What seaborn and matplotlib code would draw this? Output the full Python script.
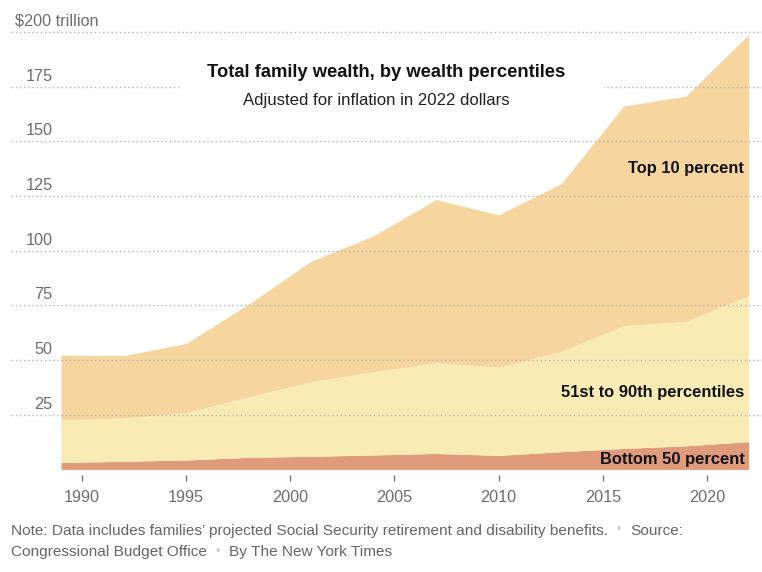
import numpy as np
import pandas as pd
import matplotlib
matplotlib.use("Agg")
import matplotlib.pyplot as plt
import matplotlib.transforms as mtransforms
from matplotlib.patches import Rectangle
import seaborn as sns

# ---- data (trillions of 2022 dollars) ----
years = [1989, 1992, 1995, 1998, 2001, 2004, 2007, 2010, 2013, 2016, 2019, 2022]
bottom_50 = [3.2, 3.7, 4.3, 5.5, 6.0, 6.6, 7.3, 6.4, 8.1, 9.6, 10.8, 12.7]
pct_51_90 = [19.4, 19.8, 21.6, 27.7, 34.1, 38.1, 41.5, 40.3, 45.9, 56.1, 56.9, 66.7]
top_10 = [29.7, 28.5, 31.7, 42.3, 55.1, 62.1, 74.6, 69.7, 76.6, 100.4, 103.0, 119.5]
series_names = ["Bottom 50 percent", "51st to 90th percentiles", "Top 10 percent"]
y_ticks = [25, 50, 75, 100, 125, 150, 175, 200]
y_tick_labels = ["25", "50", "75", "100", "125", "150", "175", "$200 trillion"]
x_ticks = [1990, 1995, 2000, 2005, 2010, 2015, 2020]
title = "Total family wealth, by wealth percentiles"
subtitle = "Adjusted for inflation in 2022 dollars"
note1 = "Note: Data includes families\u2019 projected Social Security retirement and disability benefits."
note_src = "Source:"
note2a = "Congressional Budget Office"
note2b = "By The New York Times"

df = pd.DataFrame({"year": years, series_names[0]: bottom_50,
                   series_names[1]: pct_51_90, series_names[2]: top_10})

sns.set_theme(style="white")
plt.rcParams["font.family"] = ["Liberation Sans", "DejaVu Sans"]

W, H = 762, 572
fig = plt.figure(figsize=(W / 100, H / 100), dpi=100)

def fx(px):
    return px / W

def fy(py):
    return 1 - py / H

# axes: x from px 11 to 762, y from px 469.4 (0) to 28
ax = fig.add_axes([fx(11), fy(469.4), fx(762) - fx(11), fy(28) - fy(469.4)])
px_per_year = 20.84
ax.set_xlim(1989 - 50 / px_per_year, 2022 + 13.4 / px_per_year)
ax.set_ylim(0, 200 + 4 / 2.188)

colors = ["#e09b7b", "#f8ecb4", "#f6d59f"]
base = np.zeros(len(years))
for name, c in zip(series_names, colors):
    vals = df[name].to_numpy()
    ax.fill_between(df["year"], base, base + vals, color=c, linewidth=0, zorder=1)
    base = base + vals

# dotted gridlines above the areas
for v in y_ticks:
    ax.axhline(v, color="#b5b5b5", linewidth=1.0, linestyle=(0, (1, 2)), zorder=2)

sns.despine(ax=ax, left=True, right=True, top=True, bottom=True)
ax.set_yticks([])
ax.set_xticks(x_ticks)
ax.set_xticklabels([str(x) for x in x_ticks])
ax.spines["bottom"].set_position(("outward", 3.7))
ax.tick_params(axis="x", direction="out", length=4.4, width=1, color="#777777",
               pad=6.5, labelsize=11.7, labelcolor="#6e6e6e", bottom=True)
ax.grid(False)

# y labels above gridlines
ylab_tr = mtransforms.offset_copy(
    mtransforms.blended_transform_factory(fig.transFigure, ax.transData),
    fig=fig, x=0, y=6, units="dots")
for v, lab in zip(y_ticks, y_tick_labels):
    if lab.startswith("$"):
        ax.text(fx(15), v, lab, transform=ylab_tr, ha="left", va="baseline",
                fontsize=11.7, color="#6e6e6e", zorder=5)
    else:
        ax.text(fx(52.5), v, lab, transform=ylab_tr, ha="right", va="baseline",
                fontsize=11.7, color="#6e6e6e", zorder=5)

# white box behind title
fig.patches.append(Rectangle((fx(181), fy(115)), fx(604) - fx(181), fy(50) - fy(115),
                             transform=fig.transFigure, facecolor="white",
                             edgecolor="none", zorder=3))
fig.text(fx(386), fy(77), title, ha="center", va="baseline", fontsize=13.2,
         fontweight="bold", color="#121212", zorder=6)
fig.text(fx(376), fy(105), subtitle, ha="center", va="baseline", fontsize=12.1,
         color="#222222", zorder=6)

# series labels
lab_kw = dict(ha="right", va="baseline", fontsize=11.9, fontweight="bold", color="#121212")
fig.text(fx(744), fy(173.3), series_names[2], **lab_kw)
fig.text(fx(744), fy(397.3), series_names[1], **lab_kw)
fig.text(fx(745), fy(464), series_names[0], **lab_kw)

# footer
foot_kw = dict(va="baseline", fontsize=11.1, color="#666666")
dot_kw = dict(ha="center", va="center", fontsize=9, color="#d0d0d0")
r = fig.canvas.get_renderer()
t1 = fig.text(fx(11), fy(535), note1, ha="left", **foot_kw)
bb = t1.get_window_extent(r)
fig.text((bb.x1 + 11) / W, fy(530.5), "\u2022", **dot_kw)
fig.text((bb.x1 + 22) / W, fy(535), note_src, ha="left", **foot_kw)
t2 = fig.text(fx(11), fy(556), note2a, ha="left", **foot_kw)
bb2 = t2.get_window_extent(r)
fig.text((bb2.x1 + 11) / W, fy(551.5), "\u2022", **dot_kw)
fig.text((bb2.x1 + 22) / W, fy(556), note2b, ha="left", **foot_kw)

fig.savefig("out.png", dpi=100, facecolor="white")
